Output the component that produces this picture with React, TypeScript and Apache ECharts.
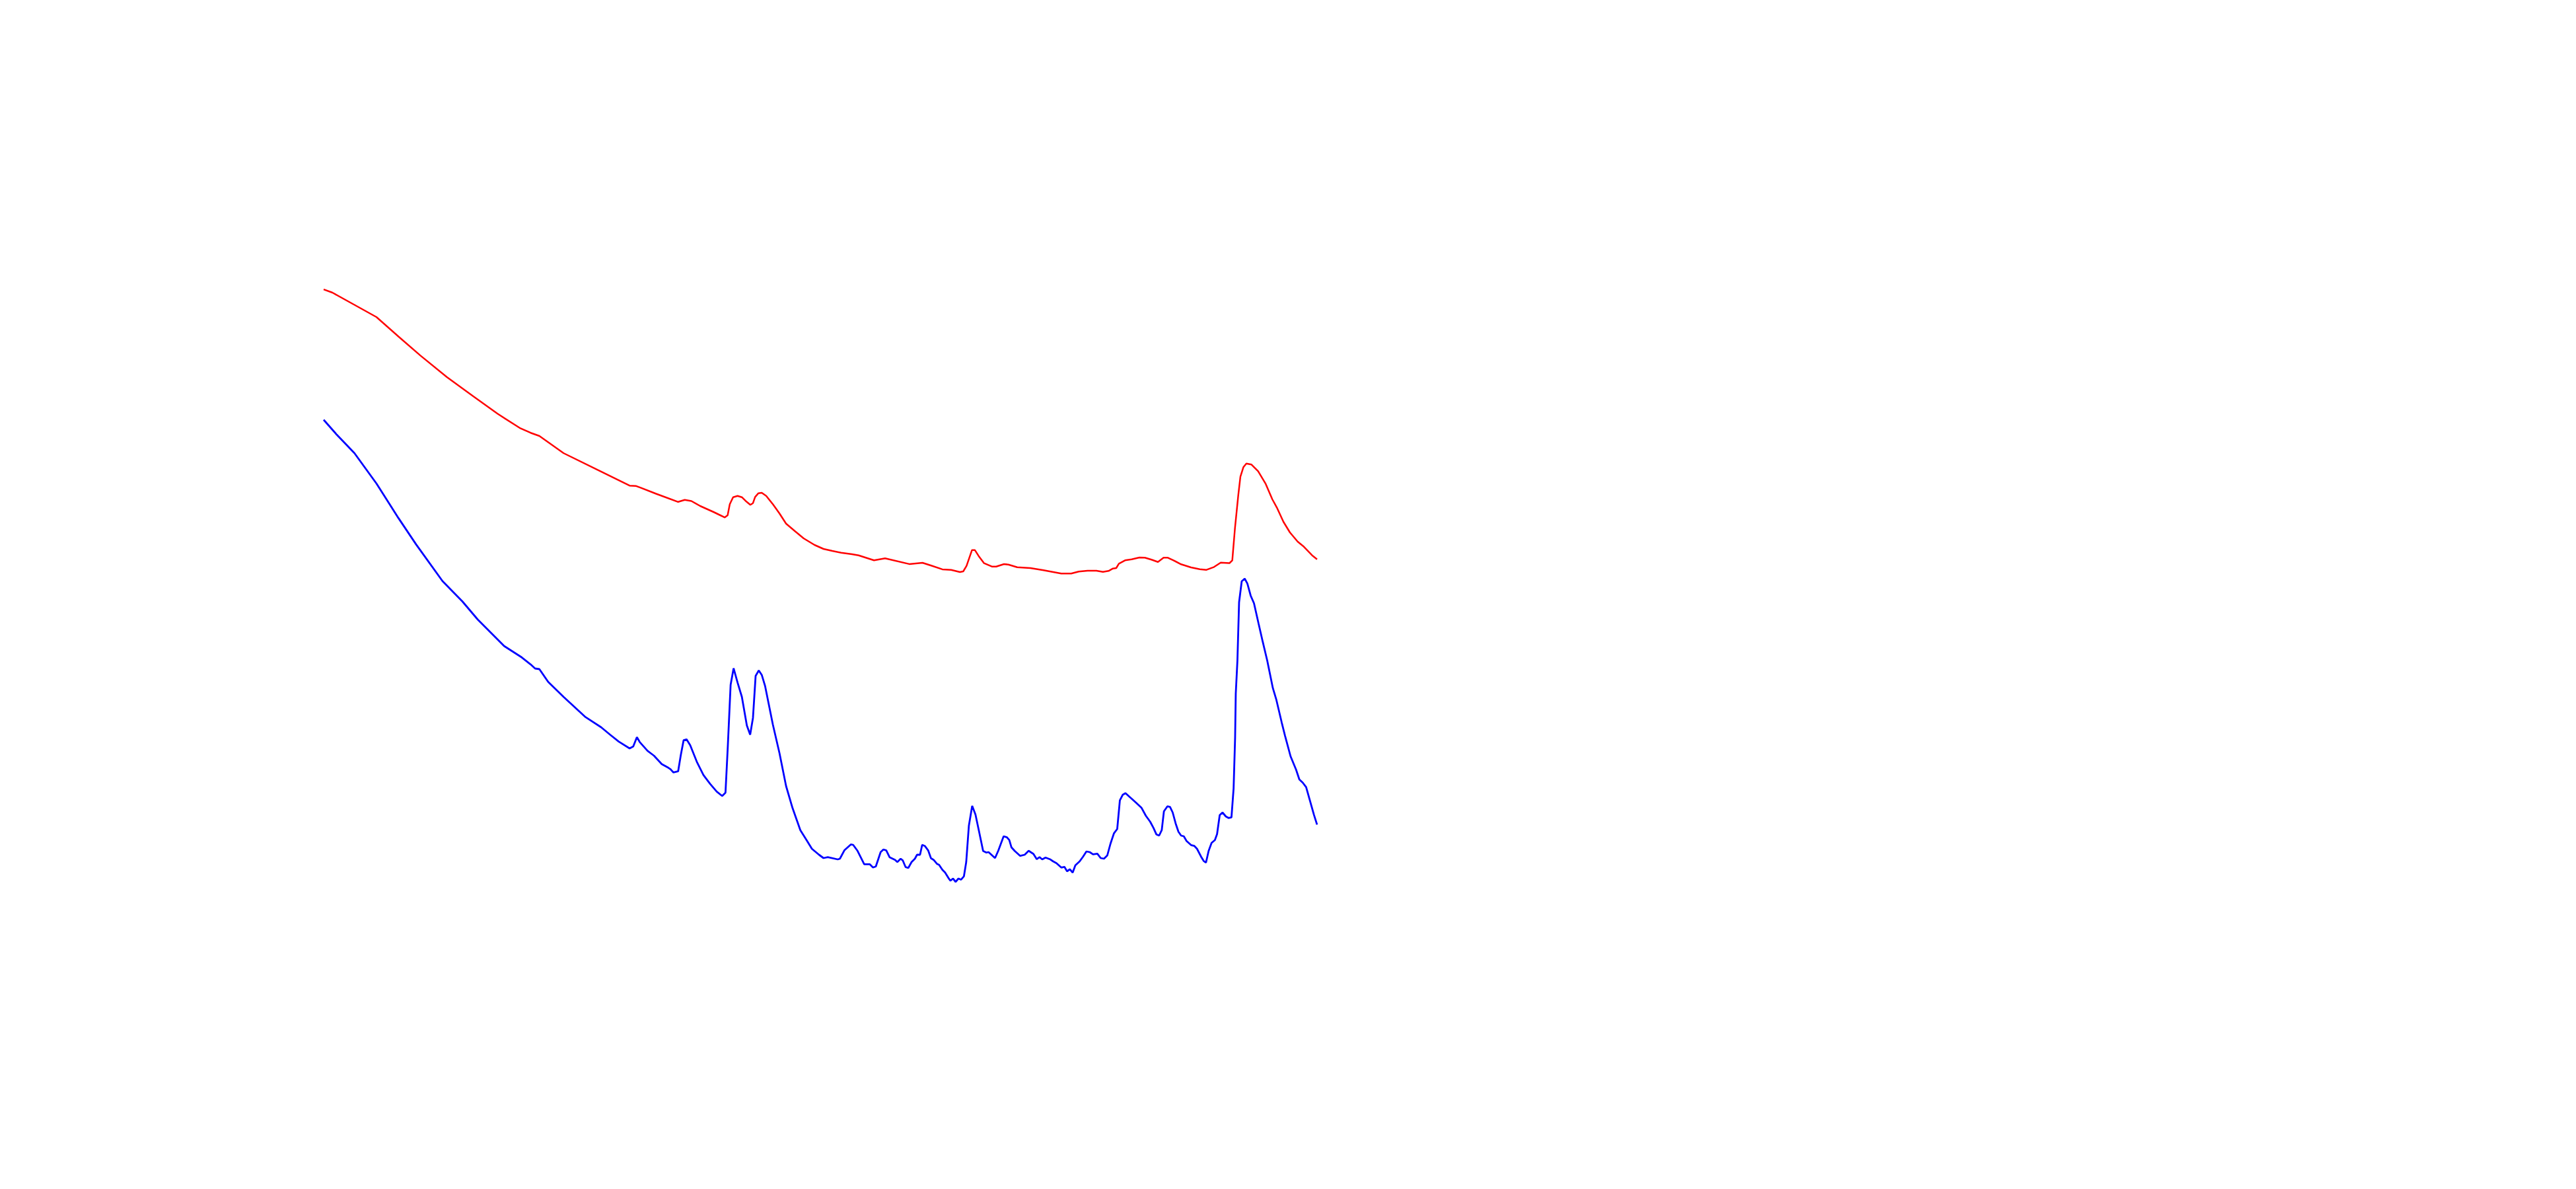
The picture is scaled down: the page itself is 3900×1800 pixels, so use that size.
import React, { useEffect, useRef } from "react";
import * as echarts from "echarts";

// x: arbitrary spectral axis (200 – 800), y: intensity (0 – 100)
const redX = [200.0,205.3,218.6,231.9,245.2,258.5,274.5,290.4,305.0,318.4,325.0,330.3,344.9,364.9,384.8,388.8,391.5,400.8,414.1,418.1,422.1,427.4,435.4,438.7,442.3,444.0,445.3,447.3,450.0,452.6,455.3,457.7,459.3,460.6,462.6,464.6,467.3,471.3,475.3,479.3,484.6,489.9,496.5,501.9,507.2,512.5,519.1,523.1,532.4,539.1,553.7,561.7,567.0,573.7,579.0,584.3,586.3,588.3,591.6,593.3,595.6,598.9,603.6,606.2,610.9,613.6,618.9,626.9,634.8,640.1,645.5,651.5,656.1,661.4,666.7,670.7,674.1,676.7,678.7,680.3,684.0,688.0,692.7,696.0,700.0,703.9,707.3,709.9,713.3,717.9,723.9,729.2,733.2,737.8,741.8,747.1,748.8,750.4,752.4,753.7,755.5,757.3,760.4,764.4,769.0,773.0,775.7,779.7,783.6,788.3,791.6,797.0,800.0];
const redY = [96.19,95.70,93.85,92.00,89.05,86.16,82.90,80.00,77.37,75.22,74.48,74.00,71.40,68.94,66.48,66.42,66.17,65.25,64.02,64.33,64.15,63.40,62.50,62.10,61.67,62.00,63.67,64.73,64.93,64.73,64.07,63.57,63.83,64.77,65.33,65.40,64.93,63.67,62.27,60.73,59.60,58.50,57.50,56.90,56.60,56.33,56.10,55.93,55.17,55.47,54.61,54.80,54.37,53.81,53.73,53.40,53.50,54.33,56.73,56.73,55.83,54.73,54.23,54.23,54.60,54.53,54.13,54.00,53.67,53.43,53.17,53.17,53.47,53.60,53.60,53.43,53.57,53.93,54.00,54.67,55.17,55.33,55.60,55.57,55.27,54.93,55.57,55.57,55.17,54.57,54.10,53.83,53.73,54.17,54.83,54.75,55.17,60.00,65.00,67.83,69.27,69.83,69.67,68.67,66.73,64.40,63.17,61.00,59.40,58.00,57.33,55.93,55.33];

const blueX = [200.0,208.0,218.6,231.9,245.2,255.9,271.8,283.8,293.1,309.0,319.7,325.0,327.7,330.3,335.6,344.9,358.2,367.6,372.9,378.2,384.8,387.0,389.2,390.9,395.6,399.5,404.2,408.2,409.4,411.2,414.1,415.7,417.4,419.2,421.4,425.4,429.4,433.4,437.4,440.7,442.7,444.1,445.8,447.6,450.0,452.6,455.6,457.6,459.3,460.9,462.8,464.6,466.6,471.3,475.3,479.3,483.2,487.9,491.9,494.9,499.2,501.9,504.5,510.5,511.8,514.5,518.5,519.8,522.5,526.5,529.8,531.8,533.5,536.4,538.1,539.8,541.8,545.1,546.5,548.5,549.8,551.5,553.1,555.1,557.1,558.4,560.2,561.5,563.1,565.1,566.8,568.4,570.4,571.7,573.7,575.3,577.4,578.6,580.1,581.7,583.4,585.0,586.7,588.1,589.7,591.7,593.7,596.1,598.3,600.3,601.6,605.5,607.4,610.7,612.7,614.1,615.4,617.4,620.7,623.4,625.8,628.7,630.7,632.4,634.0,636.0,638.6,640.6,642.6,645.5,647.4,649.0,650.7,652.4,654.0,656.6,658.7,660.7,662.7,664.7,667.3,669.3,671.3,673.3,675.3,677.3,679.3,680.9,682.6,684.3,686.6,690.6,693.9,696.6,699.2,701.2,703.0,704.6,706.2,707.5,709.6,711.2,712.8,714.6,716.3,717.9,719.5,721.2,723.9,725.9,727.5,729.9,731.5,732.9,734.5,736.3,738.3,739.6,741.2,742.9,744.9,746.5,748.3,749.6,750.5,750.9,751.9,752.9,754.5,756.3,757.9,759.9,761.9,764.6,767.2,769.9,773.3,775.3,778.6,780.6,784.0,787.3,789.3,791.4,793.4,798.1,800.0];
const blueY = [76.45,74.17,71.40,66.80,61.56,57.56,52.03,48.95,46.20,42.20,40.47,39.42,38.80,38.70,36.78,34.50,31.43,29.90,28.80,27.74,26.70,27.00,28.40,27.67,26.33,25.60,24.33,23.77,23.57,23.07,23.23,25.67,27.93,28.07,27.17,24.67,22.67,21.33,20.17,19.50,20.00,27.00,36.33,38.83,36.67,34.50,30.17,28.77,31.33,37.67,38.50,37.83,36.17,30.33,26.00,21.00,17.67,14.33,12.73,11.50,10.60,10.10,10.23,9.90,10.00,11.27,12.17,12.10,11.17,9.17,9.17,8.67,8.83,11.00,11.40,11.27,10.23,9.83,9.50,10.00,9.73,8.73,8.60,9.50,10.00,10.60,10.60,12.10,11.93,11.27,10.07,9.83,9.23,9.07,8.33,7.93,7.07,6.67,7.00,6.50,7.00,6.83,7.33,9.50,15.00,18.00,16.67,13.83,11.17,10.93,11.00,10.10,11.17,13.40,13.23,12.83,11.73,11.17,10.43,10.60,11.20,10.73,9.93,10.23,9.90,10.17,9.93,9.60,9.33,8.67,8.77,8.10,8.40,7.90,9.00,9.60,10.33,11.10,11.00,10.67,10.77,10.10,10.00,10.50,12.33,13.83,14.50,18.83,19.67,19.93,19.40,18.50,17.73,16.50,15.60,14.67,13.67,13.50,14.33,17.17,17.93,17.83,17.00,15.33,14.07,13.50,13.40,12.67,12.07,11.93,11.50,10.33,9.67,9.40,11.17,12.40,12.83,13.73,16.60,17.00,16.40,16.17,16.27,20.67,28.33,35.00,40.00,48.83,52.00,52.40,51.67,49.83,48.67,45.67,42.83,40.00,35.83,34.17,30.67,28.67,25.50,23.50,22.00,21.50,20.83,16.67,15.17];

const zip = (xs: number[], ys: number[]) => xs.map((x, i) => [x, ys[i]]);

export default function App() {
  const ref = useRef<HTMLDivElement>(null);
  useEffect(() => {
    if (!ref.current) return;
    const chart = echarts.init(ref.current, null, { renderer: "svg" });
    chart.setOption({
      animation: false,
      backgroundColor: "#ffffff",
      grid: { left: 490, right: 1906, top: 400, bottom: 400 },
      xAxis: { type: "value", min: 200, max: 800, show: false },
      yAxis: { type: "value", min: 0, max: 100, show: false },
      series: [
        {
          name: "red",
          type: "line",
          data: zip(redX, redY),
          showSymbol: false,
          symbol: "none",
          lineStyle: { color: "#ff0000", width: 2.5 },
          itemStyle: { color: "#ff0000" },
        },
        {
          name: "blue",
          type: "line",
          data: zip(blueX, blueY),
          showSymbol: false,
          symbol: "none",
          lineStyle: { color: "#0000ff", width: 2.8 },
          itemStyle: { color: "#0000ff" },
        },
      ],
    });
    return () => chart.dispose();
  }, []);
  return (
    <div
      ref={ref}
      style={{ position: "fixed", left: 0, top: 0, width: 3900, height: 1800, background: "#fff" }}
    />
  );
}
